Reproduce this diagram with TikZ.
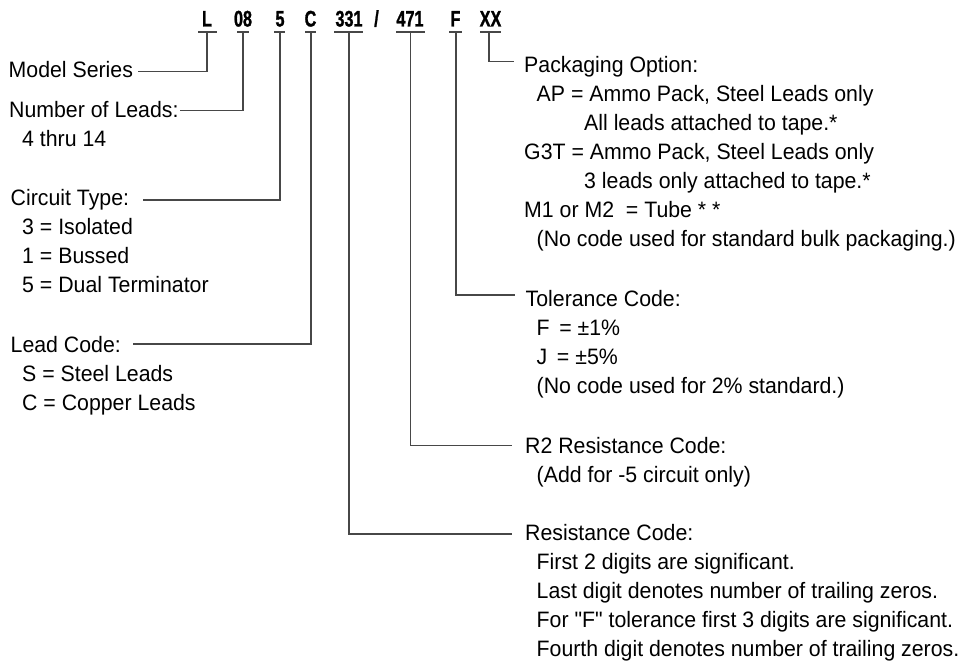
\documentclass[tikz,border=0pt]{standalone}
\usepackage{fontspec}
\setmainfont[FakeStretch=0.955]{Liberation Sans}
\newfontfamily\hdrfont[FakeStretch=0.72,FakeBold=1.2]{Liberation Sans}
\newcommand\straightq{{\addfontfeatures{Ligatures=TeXOff}"}}
\begin{document}
\begin{tikzpicture}[x=1pt,y=-1pt,
  txt/.style={anchor=base west,inner sep=0pt,font=\fontsize{22.3}{29}\selectfont},
  hdr/.style={anchor=base,inner sep=0pt,font=\hdrfont\bfseries\fontsize{22.5}{25}\selectfont},
  conn/.style={draw=black!72,line width=1.1pt}]
\useasboundingbox (0,0) rectangle (965,661);
% header code
\node[hdr] (hL)   at (207,26.5) {L};
\node[hdr] (h08)  at (243,26.5) {08};
\node[hdr] (h5)   at (280,26.5) {5};
\node[hdr] (hC)   at (310.5,26.5) {C};
\node[hdr] (h331) at (349,26.5) {331};
\node[hdr] (hsl)  at (376.5,26.5) {/};
\node[hdr] (h471) at (410,26.5) {471};
\node[hdr] (hF)   at (455.5,26.5) {F};
\node[hdr] (hXX)  at (490.5,26.5) {XX};
% underline tops
\coordinate (cL)   at (207,32);
\coordinate (c08)  at (243,32);
\coordinate (c5)   at (280,32);
\coordinate (cC)   at (311,32);
\coordinate (c331) at (349,32);
\coordinate (c471) at (410.7,32);
\coordinate (cF)   at (456,32);
\coordinate (cXX)  at (489,32);
\draw[conn] (198,32) -- (217,32);
\draw[conn] (237,32) -- (249,32);
\draw[conn] (274,32) -- (285,32);
\draw[conn] (305,32) -- (316,32);
\draw[conn] (334,32) -- (363,32);
\draw[conn] (396,32) -- (425,32);
\draw[conn] (449,32) -- (462,32);
\draw[conn] (480,32) -- (501,32);
% connector ends
\coordinate (eL)   at (138,71.7);
\coordinate (e08)  at (180,110.7);
\coordinate (e5)   at (142.7,200);
\coordinate (eC)   at (133,344);
\coordinate (e331) at (512,534);
\coordinate (e471) at (511.7,445.7);
\coordinate (eF)   at (515,295);
\coordinate (eXX)  at (514.3,61.7);
\draw[conn] (cL) |- (eL);
\draw[conn] (c08) |- (e08);
\draw[conn] (c5) |- (e5);
\draw[conn] (cC) |- (eC);
\draw[conn] (c331) |- (e331);
\draw[conn] (c471) |- (e471);
\draw[conn] (cF) |- (eF);
\draw[conn] (cXX) |- (eXX);
% left texts
\node[txt] (ms)  at (8.5,77.5) {Model Series};
\node[txt] (nl)  at (9,117.5) {Number of Leads:};
\node[txt] (nl1) at (22,146.5) {4 thru 14};
\node[txt] (ct)  at (10.5,205.8) {Circuit Type:};
\node[txt] (ct1) at (22,234.8) {3 = Isolated};
\node[txt] (ct2) at (22,263.8) {1 = Bussed};
\node[txt] (ct3) at (22,292.8) {5 = Dual Terminator};
\node[txt] (lc)  at (10.5,352.5) {Lead Code:};
\node[txt] (lc1) at (22,381.5) {S = Steel Leads};
\node[txt] (lc2) at (22,410.5) {C = Copper Leads};
% packaging
\node[txt] (po)  at (524,72) {Packaging Option:};
\node[txt] (po1) at (536.5,101) {AP = Ammo Pack, Steel Leads only};
\node[txt] (po2) at (584,130) {All leads attached to tape.*};
\node[txt] (po3) at (524,159) {G3T = Ammo Pack, Steel Leads only};
\node[txt] (po4) at (584,188) {3 leads only attached to tape.*};
\node[txt] (po5) at (524,217) {M1 or M2\ \ = Tube * *};
\node[txt] (po6) at (536.5,246) {(No code used for standard bulk packaging.)};
% tolerance
\node[txt] (tc)  at (525.5,306) {Tolerance Code:};
\node[txt] (tc1) at (536.5,335) {F\ \,= ±1\%};
\node[txt] (tc2) at (536.5,364) {J\ \,= ±5\%};
\node[txt] (tc3) at (536.5,393) {(No code used for 2\% standard.)};
% R2
\node[txt] (r2)  at (525,453.5) {R2 Resistance Code:};
\node[txt] (r21) at (536.5,482.5) {(Add for -5 circuit only)};
% resistance
\node[txt] (rc)  at (525,540.5) {Resistance Code:};
\node[txt] (rc1) at (536.5,569.5) {First 2 digits are significant.};
\node[txt] (rc2) at (536.5,598.5) {Last digit denotes number of trailing zeros.};
\node[txt] (rc3) at (536.5,627.5) {For \straightq F\straightq{} tolerance first 3 digits are significant.};
\node[txt] (rc4) at (536.5,656.5) {Fourth digit denotes number of trailing zeros.};
\end{tikzpicture}
\end{document}
